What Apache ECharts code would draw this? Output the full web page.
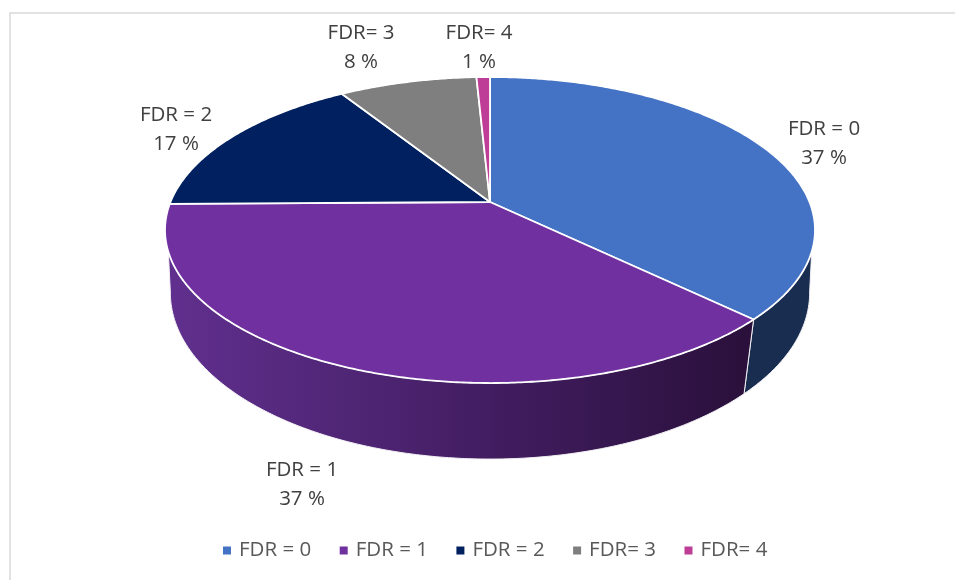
<!DOCTYPE html>
<html>
<head>
<meta charset="utf-8">
<style>html,body{margin:0;padding:0;background:#fff}#c{width:955px;height:580px}</style>
<script src="https://cdn.jsdelivr.net/npm/echarts@6/dist/echarts.min.js"></script>
</head>
<body>
<div id="c"></div>
<script>
const categories = ['FDR = 0', 'FDR = 1', 'FDR = 2', 'FDR= 3', 'FDR= 4'];
const shares = [37.2, 37.6, 16.2, 8.2, 0.8];
const percentLabels = ['37 %', '37 %', '17 %', '8 %', '1 %'];
const topColors = ['#4472c4', '#7030a0', '#002060', '#7f7f7f', '#be3d96'];

// layout of the perspective disc
const CX = 490, TOP_CY = 202, TOP_RX = 319.5, TOP_RY = 147.9, TOP_K = 0.183;
const LOW_CY = 268, LOW_RX = 316, LOW_RY = 162.4, LOW_K = 0.15;
const WALL_TOP = [108.5, 251.5], WALL_LOW = [98.6, 261.4];
const labelAnchors = [[824, 144], [302, 485], [176, 130], [361, 48], [479, 48]];

const total = shares.reduce((a, b) => a + b, 0);
const starts = shares.map((_, i) => shares.slice(0, i).reduce((a, b) => a + b, 0) / total * 360);
const ends = shares.map((_, i) => shares.slice(0, i + 1).reduce((a, b) => a + b, 0) / total * 360);

function rim(deg, cy, rx, ry, k) {
  const t = deg * Math.PI / 180, u = Math.sin(t), v = -Math.cos(t), w = 1 - k * v;
  return [CX + rx * u / w, cy + ry * v / w];
}
const topRim = d => rim(d, TOP_CY, TOP_RX, TOP_RY, TOP_K);
const lowRim = d => rim(d, LOW_CY, LOW_RX, LOW_RY, LOW_K);
function arc(fn, a, b) {
  const n = Math.max(2, Math.ceil(Math.abs(b - a) * 2)), pts = [];
  for (let i = 0; i <= n; i++) pts.push(fn(a + (b - a) * i / n));
  return pts;
}
function wallFill(i) {
  if (i === 0) return '#182d50';
  return new echarts.graphic.LinearGradient(165, 0, 750, 0, [
    { offset: 0, color: '#61308f' },
    { offset: 0.5, color: '#451f66' },
    { offset: 1, color: '#2a103b' }
  ], true);
}
function renderSlice(i) {
  const a = starts[i], b = ends[i], children = [];
  const ta = Math.max(a, WALL_TOP[0]), tb = Math.min(b, WALL_TOP[1]);
  const la = Math.max(a, WALL_LOW[0]), lb = Math.min(b, WALL_LOW[1]);
  if (ta < tb && la < lb) {
    children.push({
      type: 'polygon', z2: 1,
      shape: { points: arc(topRim, ta, tb).concat(arc(lowRim, lb, la)) },
      style: { fill: wallFill(i), stroke: '#f4f2f6', lineWidth: 1 }
    });
  }
  children.push({
    type: 'polygon', z2: 2,
    shape: { points: [[CX, TOP_CY]].concat(arc(topRim, a, b)) },
    style: { fill: topColors[i], stroke: '#ffffff', lineWidth: 1.8, lineJoin: 'round' }
  });
  children.push({
    type: 'text', z2: 3,
    x: labelAnchors[i][0], y: labelAnchors[i][1],
    style: {
      text: categories[i] + '\n' + percentLabels[i],
      fill: '#404040', font: '20.5px "Open Sans"', lineHeight: 29,
      align: 'center', verticalAlign: 'middle'
    }
  });
  return { type: 'group', children };
}

const chart = echarts.init(document.getElementById('c'), null, { renderer: 'canvas' });
chart.setOption({
  animation: false,
  backgroundColor: '#ffffff',
  tooltip: { show: false },
  graphic: [
    { type: 'polyline', silent: true, shape: { points: [[10, 600], [10, 13], [970, 13]] },
      style: { stroke: '#d9d9d9', lineWidth: 1.5, fill: null } }
  ],
  legend: {
    left: 218, top: 535, icon: 'rect', itemWidth: 8, itemHeight: 8, itemGap: 28.5,
    selectedMode: false,
    data: categories,
    textStyle: { color: '#595959', fontFamily: 'Open Sans', fontSize: 20.5, padding: [0, 0, 0, 3] }
  },
  series: categories.map((name, i) => ({
    type: 'custom', name, coordinateSystem: 'none', silent: true,
    itemStyle: { color: topColors[i] },
    data: [shares[i]],
    renderItem: () => renderSlice(i)
  }))
});
</script>
</body>
</html>
